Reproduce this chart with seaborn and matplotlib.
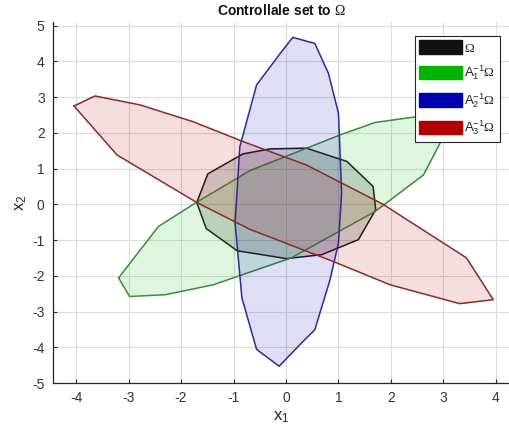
import numpy as np
import pandas as pd
import matplotlib
matplotlib.use("Agg")
import matplotlib.pyplot as plt
from matplotlib.patches import Patch
import seaborn as sns

# Polygon vertices (x1, x2) of each set
omega_x = [1.71, 1.66, 1.16, 0.39, -0.30, -0.82, -1.49, -1.70, -1.52, -0.93, 0.01, 0.68, 1.38]
omega_y = [-0.15, 0.50, 1.20, 1.57, 1.55, 1.41, 0.85, 0.05, -0.68, -1.30, -1.52, -1.41, -0.99]

a1_x = [-3.19, -2.43, -1.70, -0.69, 1.03, 1.70, 2.49, 3.25, 3.0, 2.62, 1.70, 0.10, -0.69, -1.38, -2.30, -2.98]
a1_y = [-2.06, -0.62, 0.06, 0.94, 1.94, 2.29, 2.45, 2.62, 1.89, 0.82, -0.20, -1.50, -1.90, -2.25, -2.53, -2.58]

a2_x = [0.13, 0.55, 0.81, 1.00, 1.06, 1.00, 0.84, 0.55, 0.27, -0.13, -0.56, -0.84, -0.97, -0.88, -0.56, -0.11]
a2_y = [4.67, 4.50, 3.66, 2.55, 0.31, -1.08, -2.11, -3.51, -3.92, -4.53, -4.06, -2.62, -0.52, 1.61, 3.34, 4.22]

a3_x = [-4.04, -3.64, -2.78, -1.77, -0.81, 0.39, 1.85, 3.44, 3.95, 3.31, 1.98, 0.90, -0.69, -1.70, -3.22]
a3_y = [2.75, 3.03, 2.78, 2.31, 1.75, 1.10, 0.00, -1.50, -2.67, -2.78, -2.25, -1.60, -0.70, 0.05, 1.38]

set_labels = [r"$\Omega$",
              r"$\mathsf{A}_\mathsf{1}^\mathsf{-1}\Omega$",
              r"$\mathsf{A}_\mathsf{2}^\mathsf{-1}\Omega$",
              r"$\mathsf{A}_\mathsf{3}^\mathsf{-1}\Omega$"]
fill_colors = ["#000000", "#00b400", "#0000b4", "#b40000"]
edge_colors = ["#1a1a1a", "#3c8a3c", "#2a2a9a", "#8a2a2a"]
legend_colors = ["#111111", "#00b400", "#0000b0", "#b00000"]

x_ticks = list(range(-4, 5))
y_ticks = list(range(-5, 6))

sns.set_theme(style="whitegrid")
plt.rcParams["font.family"] = ["Liberation Sans", "DejaVu Sans"]
plt.rcParams["axes.unicode_minus"] = False
plt.rcParams["mathtext.fontset"] = "custom"
plt.rcParams["mathtext.rm"] = "Liberation Serif"
plt.rcParams["mathtext.it"] = "Liberation Serif:italic"
plt.rcParams["mathtext.sf"] = "Liberation Sans"

fig = plt.figure(figsize=(5.09, 4.40), dpi=100)
ax = fig.add_axes([53 / 509, 1 - 383 / 440, 1 - 53 / 509, (383 - 22) / 440])

sets = [(omega_x, omega_y), (a1_x, a1_y), (a2_x, a2_y), (a3_x, a3_y)]
fill_alpha = [0.16, 0.13, 0.13, 0.13]
for i, (xs, ys) in enumerate(sets):
    ax.fill(xs, ys, color=fill_colors[i], alpha=fill_alpha[i], lw=0, zorder=2 + i)
    closed = pd.DataFrame({"x1": xs + xs[:1], "x2": ys + ys[:1]})
    sns.lineplot(data=closed, x="x1", y="x2", sort=False, estimator=None,
                 color=edge_colors[i], lw=1.1, ax=ax, zorder=3 + i)

ax.set_xlim(-4.44, 4.25)
ax.set_ylim(-5, 5.1)
ax.set_xticks(x_ticks)
ax.set_yticks(y_ticks)
ax.tick_params(axis="both", direction="in", length=3, width=0.8, colors="#262626",
               labelsize=10, labelcolor="#333333", bottom=True, left=True, pad=6)
ax.grid(True, color="#dcdcdc", lw=0.8)
ax.set_facecolor("white")
for side in ["top", "right"]:
    ax.spines[side].set_visible(False)
for side in ["left", "bottom"]:
    ax.spines[side].set_color("#262626")
    ax.spines[side].set_linewidth(0.9)

ax.set_xlabel(r"x$_\mathsf{1}$", fontsize=12, color="#262626", labelpad=3)
ax.set_ylabel(r"x$_\mathsf{2}$", fontsize=12, color="#262626", labelpad=2)
ax.set_title(r"Controllale set to $\Omega$", fontsize=10, fontweight="bold", color="#111111", pad=5)

handles = [Patch(facecolor=c, edgecolor=c) for c in legend_colors]
leg = ax.legend(handles, set_labels, loc="upper right", bbox_to_anchor=(0.98, 0.962),
                fontsize=9.5, handlelength=3.2, handleheight=1.2, labelspacing=0.7,
                handletextpad=0.2, borderpad=0.35, borderaxespad=0, frameon=True,
                fancybox=False, framealpha=1)
leg.get_frame().set_edgecolor("#262626")
leg.get_frame().set_linewidth(0.8)
leg.set_zorder(20)

fig.savefig("out.png", dpi=100)
